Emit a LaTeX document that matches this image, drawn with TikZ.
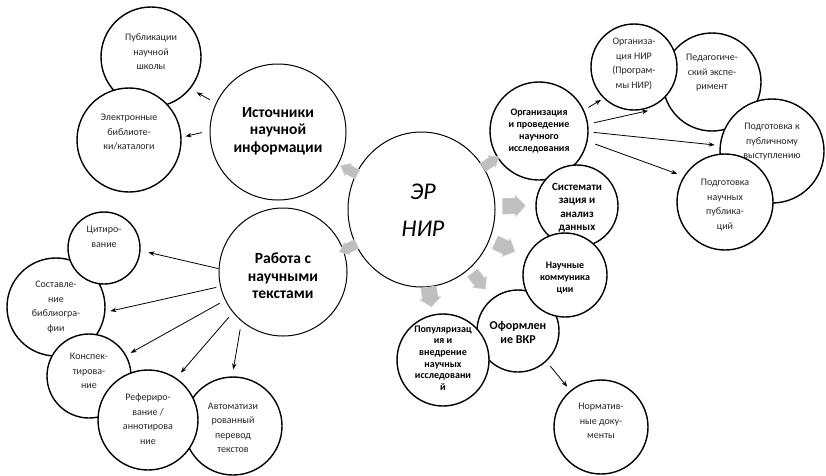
\documentclass[tikz,border=0pt]{standalone}
\usepackage{fontspec}
\setmainfont{Carlito}
\usetikzlibrary{shapes.geometric,arrows.meta}
\newcommand\blockarrowpath{(-0.5,-0.36) -- (0.05,-0.36) -- (0.05,-0.5) -- (0.5,0) -- (0.05,0.5) -- (0.05,0.36) -- (-0.5,0.36) -- cycle}
\begin{document}
\begin{tikzpicture}[x=1pt,y=-1pt,
  circ/.style={circle,draw=black,fill=white,line width=1.4pt,inner sep=0pt},
  bigcirc/.style={circle,draw=black,fill=white,line width=1pt,inner sep=0pt},
  small/.style={align=center,font=\fontsize{10}{14.5}\selectfont,text=black!85,inner sep=0pt},
  boldt/.style={align=center,font=\fontsize{10}{12}\selectfont\bfseries,inner sep=0pt},
  headt/.style={align=center,font=\fontsize{15.5}{17.5}\selectfont\bfseries,inner sep=0pt},
  arr/.style={-{Stealth[length=6pt,width=4.5pt]},line width=0.8pt},
  gfill/.style={fill=black!25,draw=black!15,line width=0.5pt,line join=round}]
\useasboundingbox (0,0) rectangle (826,475);

% centre
\node[ellipse,draw=black,fill=white,line width=1pt,inner sep=0pt,
  minimum width=147pt,minimum height=155pt] (er) at (421.5,209.5) {};
\node[align=center,font=\fontsize{24}{37}\selectfont\itshape,inner sep=0pt] (erT) at (423,210) {ЭР\\НИР};

% sources
\node[bigcirc,minimum size=136pt] (ist) at (278,132) {};
\node[headt] (istT) at (278,131) {Источники\\научной\\информации};
\node[circ,minimum size=100pt] (pub) at (151,57) {};
\node[small] (pubT) at (151,52) {Публикации\\научной\\школы};
\node[circ,minimum size=104pt] (ele) at (129,140) {};
\node[small] (eleT) at (129,132) {Электронные\\библиоте-\\ки/каталоги};

% texts
\node[bigcirc,minimum size=128pt] (rab) at (283,272) {};
\node[headt] (rabT) at (283,276) {Работа с\\научными\\текстами};
\node[circ,minimum size=98pt] (sos) at (56,307) {};
\node[small] (sosT) at (56,307) {Составле-\\ние\\библиогра-\\фии};
\node[circ,minimum size=72pt] (cit) at (104,248) {};
\node[small] (citT) at (104,237) {Цитиро-\\вание};
\node[circ,minimum size=84pt] (kon) at (89,376) {};
\node[small] (konT) at (89,371) {Конспек-\\тирова-\\ние};
\node[circ,minimum size=98pt] (avt) at (233,426) {};
\node[small] (avtT) at (233,428) {Автоматизи\\рованный\\перевод\\текстов};
\node[circ,minimum size=100pt] (ref) at (148,420) {};
\node[small] (refT) at (148,419) {Рефериро-\\вание /\\аннотирова\\ние};

% right upper
\node[circ,minimum size=98pt] (ped) at (712,82) {};
\node[small] (pedT) at (712,73) {Педагогиче-\\ский экспе-\\римент};
\node[circ,minimum size=86pt] (onir) at (634,67) {};
\node[small] (onirT) at (634,64) {Организа-\\ция НИР\\(Програм-\\мы НИР)};
\node[circ,minimum size=104pt] (pkp) at (772,151) {};
\node[small] (pkpT) at (772,142) {Подготовка к\\публичному\\выступлению};
\node[circ,minimum size=96pt] (pnp) at (725,202) {};
\node[small] (pnpT) at (725,205) {Подготовка\\научных\\публика-\\ций};

% right chain
\node[circ,minimum size=98pt] (org) at (539,131) {};
\node[boldt] (orgT) at (539,131) {Организация\\и проведение\\научного\\исследования};
\node[circ,minimum size=82pt] (sis) at (577,206) {};
\node[align=center,font=\fontsize{11}{13.5}\selectfont\bfseries,inner sep=0pt] (sisT) at (577,208) {Системати\\зация и\\анализ\\данных};
\node[circ,minimum size=82pt] (ofo) at (518,331) {};
\node[align=center,font=\fontsize{12}{14}\selectfont\bfseries,inner sep=0pt] (ofoT) at (518,332) {Оформлен\\ие ВКР};
\node[circ,minimum size=84pt] (nau) at (565,275) {};
\node[boldt] (nauT) at (565,278) {Научные\\коммуника\\ции};
\node[circ,minimum size=92pt] (pop) at (443,360) {};
\node[align=center,font=\fontsize{10}{11.7}\selectfont\bfseries,inner sep=0pt] (popT) at (443,358) {Популяризац\\ия и\\внедрение\\научных\\исследовани\\й};
\node[circ,minimum size=94pt] (nor) at (601,427) {};
\node[small] (norT) at (601,421) {Норматив-\\ные доку-\\менты};

% grey block arrows
\fill[gfill,shift={(349,170)},rotate=151.7,xscale=19,yscale=14] \blockarrowpath;
\fill[gfill,shift={(348,248)},rotate=204.5,xscale=19,yscale=14] \blockarrowpath;
\fill[gfill,shift={(491,162)},rotate=33.5,xscale=19,yscale=14] \blockarrowpath;
\fill[gfill,shift={(514,206)},rotate=1,xscale=23,yscale=22] \blockarrowpath;
\fill[gfill,shift={(505,247)},rotate=-24.6,xscale=22,yscale=20] \blockarrowpath;
\fill[gfill,shift={(479,281)},rotate=-51.5,xscale=21,yscale=18] \blockarrowpath;
\fill[gfill,shift={(430,297)},rotate=-81.7,xscale=20,yscale=22] \blockarrowpath;

% connectors
\draw[arr,shorten <=7pt,shorten >=7pt] (ist.155) -- (pub.-39);
\draw[arr,shorten <=8pt,shorten >=4pt] (ist.179) -- (ele.3);
\draw[arr,shorten >=8pt] (rab.177) -- (cit.-4);
\draw[arr,shorten <=4pt,shorten >=5pt] (rab.193) -- (sos.-6);
\draw[arr,shorten <=6pt,shorten >=5pt] (rab.206) -- (kon.29);
\draw[arr,shorten <=6pt,shorten >=7pt] (rab.219) -- (ref.56);
\draw[arr,shorten <=8pt,shorten >=7pt] (rab.230) -- (avt.91);
\draw[arr,shorten <=5pt,shorten >=3pt] (org.25) -- (onir.226);
\draw[arr,shorten <=6pt,shorten >=21pt] (org.8) -- (ped.209);
\draw[arr,shorten <=5pt,shorten >=5pt] (org.-1) -- (pkp.174);
\draw[arr,shorten <=8pt,shorten >=7pt] (org.-12) -- (pnp.148);
\draw[arr,shorten <=6pt,shorten >=5pt] (ofo.-47) -- (nor.130);
\end{tikzpicture}
\end{document}
